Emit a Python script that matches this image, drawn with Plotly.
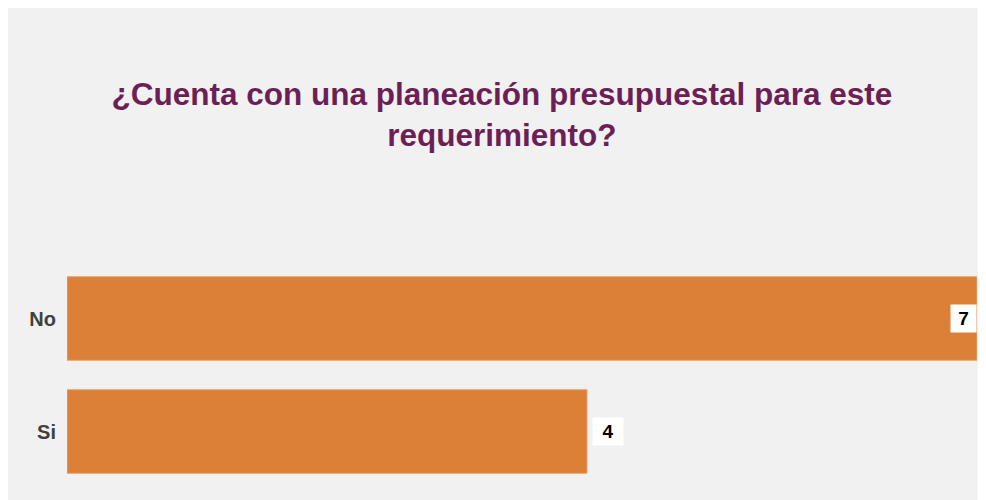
import plotly.graph_objects as go

# data
categories = ["Si", "No"]
values = [4, 7]
title_text = "¿Cuenta con una planeación presupuestal para este<br>requerimiento?"

BAR_COLOR = "#dc7f37"
TITLE_COLOR = "#6c1f56"
PANEL_BG = "#f1f1f1"
FONT = "Liberation Sans, Arial, sans-serif"

fig = go.Figure(go.Bar(
    x=values, y=categories, orientation="h",
    marker=dict(color=BAR_COLOR, line=dict(color="#e8a574", width=1)),
    hoverinfo="x+y",
))

# value labels in little white boxes
for cat, val in zip(categories, values):
    inside = val == max(values)
    fig.add_annotation(
        x=val, y=cat, text=f"<b>{val}</b>", showarrow=False,
        xanchor="right" if inside else "left",
        xshift=0 if inside else 5,
        width=19 if inside else 24, height=21, borderpad=3,
        bgcolor="white",
        font=dict(family=FONT, size=19, color="black"),
    )

fig.update_layout(
    width=978, height=500,
    margin=dict(l=59, r=9, t=254, b=20),
    paper_bgcolor=PANEL_BG, plot_bgcolor=PANEL_BG,
    title=dict(
        text=f"<b>{title_text}</b>", x=0.505, xanchor="center",
        y=1 - 97 / 500, yref="container", yanchor="top",
        font=dict(family=FONT, size=31.5, color=TITLE_COLOR),
    ),
    bargap=0.26,
    showlegend=False,
    xaxis=dict(range=[0, 7], visible=False, fixedrange=True),
    yaxis=dict(
        showgrid=False, zeroline=False, ticks="", ticklabelstandoff=10,
        tickfont=dict(family=FONT, size=20, color="#404040", weight="bold"),
    ),
)

fig.write_html("out.html")
